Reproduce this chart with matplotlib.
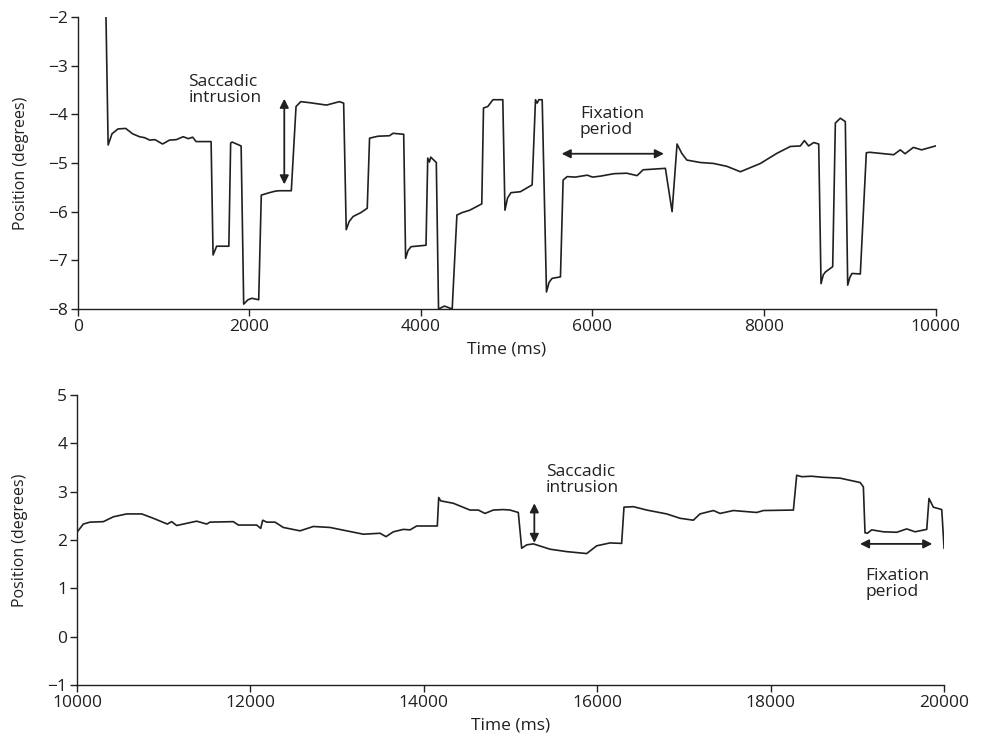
import matplotlib
matplotlib.use('Agg')
import matplotlib.pyplot as plt

plt.rcParams['font.family'] = ['Open Sans', 'DejaVu Sans']
plt.rcParams['axes.unicode_minus'] = True

# ---- top panel: 0 - 10000 ms ----
t_top = [330, 355, 400, 470, 560, 640, 720, 780, 840, 900, 990, 1070, 1150, 1230, 1290,
         1340, 1380, 1555, 1578, 1620, 1762, 1783, 1800, 1905, 1935, 1985, 2030, 2110,
         2140, 2235, 2300, 2350, 2490, 2545, 2600, 2700, 2900, 3050, 3100, 3130, 3165,
         3210, 3300, 3375, 3402, 3500, 3635, 3675, 3800, 3822, 3850, 3885, 4060, 4080,
         4100, 4115, 4180, 4206, 4275, 4365, 4420, 4480, 4570, 4710, 4730, 4780, 4840,
         4955, 4980, 5010, 5050, 5160, 5297, 5336, 5355, 5375, 5414, 5464, 5495, 5530,
         5627, 5658, 5705, 5800, 5940, 6000, 6093, 6250, 6400, 6520, 6590, 6850, 6928,
         6986, 7040, 7100, 7258, 7414, 7569, 7724, 7957, 8151, 8307, 8423, 8470, 8520,
         8579, 8637, 8664, 8690, 8715, 8800, 8831, 8889, 8947, 8975, 9000, 9025, 9122,
         9192, 9230, 9511, 9588, 9643, 9740, 9837, 9999]
pos_top = [-2.0, -4.63, -4.40, -4.30, -4.29, -4.40, -4.46, -4.48, -4.53, -4.52, -4.61,
           -4.53, -4.52, -4.46, -4.50, -4.47, -4.56, -4.56, -6.89, -6.71, -6.71, -4.59,
           -4.57, -4.65, -7.90, -7.81, -7.78, -7.81, -5.66, -5.61, -5.58, -5.57, -5.57,
           -3.84, -3.74, -3.76, -3.81, -3.74, -3.77, -6.37, -6.20, -6.10, -6.02, -5.93,
           -4.49, -4.45, -4.44, -4.39, -4.41, -6.96, -6.80, -6.72, -6.69, -4.90, -4.98,
           -4.88, -4.99, -8.0, -7.94, -8.0, -6.07, -6.02, -5.97, -5.84, -3.87, -3.84,
           -3.70, -3.70, -5.97, -5.72, -5.61, -5.59, -5.45, -3.70, -3.77, -3.70, -3.70,
           -7.65, -7.45, -7.37, -7.34, -5.35, -5.28, -5.29, -5.25, -5.29, -5.27, -5.22,
           -5.21, -5.26, -5.14, -5.11, -6.00, -4.61, -4.80, -4.94, -4.99, -5.01, -5.07,
           -5.18, -5.01, -4.80, -4.66, -4.65, -4.54, -4.65, -4.58, -4.61, -7.48, -7.30,
           -7.24, -7.13, -4.18, -4.08, -4.15, -7.51, -7.35, -7.27, -7.28, -4.79, -4.78,
           -4.83, -4.73, -4.81, -4.68, -4.73, -4.65]

# ---- bottom panel: 10000 - 20000 ms ----
t_bot = [10004, 10073, 10150, 10304, 10419, 10573, 10746, 10880, 11042, 11092, 11150,
         11380, 11496, 11534, 11803, 11861, 12072, 12119, 12142, 12188, 12284, 12380,
         12572, 12726, 12918, 13303, 13495, 13564, 13649, 13764, 13841, 13918, 14156,
         14172, 14195, 14341, 14533, 14629, 14706, 14802, 14918, 14995, 15090, 15129,
         15187, 15264, 15456, 15648, 15879, 15994, 16148, 16282, 16309, 16417, 16571,
         16802, 16955, 17109, 17186, 17340, 17417, 17571, 17840, 17917, 18263, 18301,
         18359, 18474, 18589, 18801, 19032, 19070, 19089, 19116, 19166, 19301, 19455,
         19570, 19666, 19801, 19827, 19877, 19974, 20001]
pos_bot = [2.17, 2.33, 2.37, 2.38, 2.48, 2.54, 2.54, 2.45, 2.33, 2.38, 2.30, 2.39, 2.33,
           2.37, 2.38, 2.31, 2.31, 2.24, 2.41, 2.37, 2.37, 2.26, 2.19, 2.28, 2.26, 2.12,
           2.14, 2.07, 2.17, 2.22, 2.21, 2.29, 2.29, 2.88, 2.81, 2.76, 2.62, 2.62, 2.55,
           2.62, 2.63, 2.62, 2.57, 1.83, 1.90, 1.92, 1.81, 1.76, 1.72, 1.88, 1.94, 1.93,
           2.68, 2.69, 2.62, 2.54, 2.45, 2.41, 2.54, 2.61, 2.55, 2.61, 2.57, 2.61, 2.62,
           3.34, 3.31, 3.32, 3.30, 3.28, 3.19, 3.10, 2.15, 2.14, 2.21, 2.17, 2.16, 2.23,
           2.17, 2.22, 2.86, 2.68, 2.63, 1.83]

INK = '#231f20'
FS = 12.5
FS_YLABEL = 11.5

fig = plt.figure(figsize=(9.82, 7.48), dpi=100)
ax1 = fig.add_axes([0.0791, 0.5869, 0.8737, 0.3904])
ax2 = fig.add_axes([0.0784, 0.0842, 0.8829, 0.3877])


def style(ax, xlim, ylim, xticks, yticks):
    ax.set_xlim(*xlim)
    ax.set_ylim(*ylim)
    ax.set_xticks(xticks)
    ax.set_yticks(yticks)
    for s in ['top', 'right']:
        ax.spines[s].set_visible(False)
    for s in ['left', 'bottom']:
        ax.spines[s].set_color(INK)
        ax.spines[s].set_linewidth(1.0)
    ax.tick_params(direction='out', length=5, width=1.0, color=INK,
                   labelsize=FS, labelcolor=INK, pad=2)
    ax.set_xlabel('Time (ms)', fontsize=FS, color=INK, labelpad=5)
    ax.set_ylabel('Position (degrees)', fontsize=FS_YLABEL, color=INK)
    ax.yaxis.set_label_coords(-0.057, 0.5)


ax1.plot(t_top, pos_top, color=INK, lw=1.2)
style(ax1, (0, 10000), (-8, -2), range(0, 10001, 2000), range(-8, -1))

ax2.plot(t_bot, pos_bot, color=INK, lw=1.2)
style(ax2, (10000, 20000), (-1, 5), range(10000, 20001, 2000), range(-1, 6))

arrow = dict(arrowstyle='<|-|>', color=INK, lw=1.3, mutation_scale=13,
             shrinkA=0, shrinkB=0)

# top annotations
ax1.text(1290, -3.17, 'Saccadic\nintrusion', fontsize=FS, color=INK,
         va='top', ha='left', linespacing=1.0)
ax1.annotate('', xy=(2408, -3.68), xytext=(2408, -5.44), arrowprops=arrow)
ax1.text(5854, -3.82, 'Fixation\nperiod', fontsize=FS, color=INK,
         va='top', ha='left', linespacing=1.0)
ax1.annotate('', xy=(5641, -4.81), xytext=(6833, -4.81), arrowprops=arrow)

# bottom annotations
ax2.text(15409, 3.58, 'Saccadic\nintrusion', fontsize=FS, color=INK,
         va='top', ha='left', linespacing=1.0)
ax2.annotate('', xy=(15275, 2.76), xytext=(15275, 1.94), arrowprops=arrow)
ax2.text(19089, 1.43, 'Fixation\nperiod', fontsize=FS, color=INK,
         va='top', ha='left', linespacing=1.0)
ax2.annotate('', xy=(19031, 1.92), xytext=(19865, 1.92), arrowprops=arrow)

fig.savefig('out.png', dpi=100)
